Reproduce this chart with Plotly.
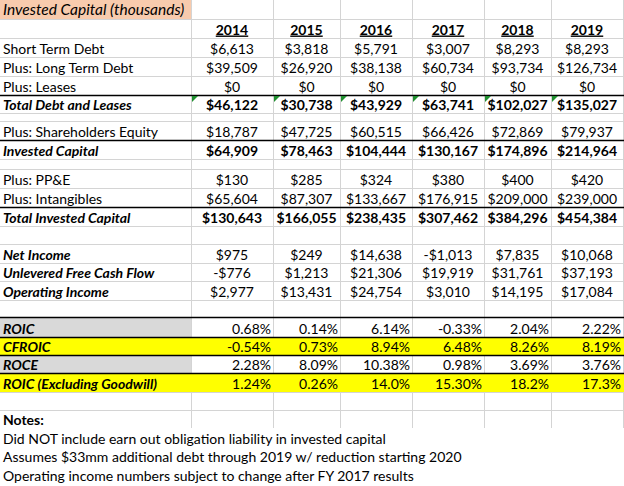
import plotly.graph_objects as go

# ---------------- data ----------------
title_text = "Invested Capital (thousands)"
years = ["2014", "2015", "2016", "2017", "2018", "2019"]

short_term_debt = [6613, 3818, 5791, 3007, 8293, 8293]
long_term_debt = [39509, 26920, 38138, 60734, 93734, 126734]
leases = [0, 0, 0, 0, 0, 0]
total_debt_and_leases = [46122, 30738, 43929, 63741, 102027, 135027]
shareholders_equity = [18787, 47725, 60515, 66426, 72869, 79937]
invested_capital = [64909, 78463, 104444, 130167, 174896, 214964]
ppe = [130, 285, 324, 380, 400, 420]
intangibles = [65604, 87307, 133667, 176915, 209000, 239000]
total_invested_capital = [130643, 166055, 238435, 307462, 384296, 454384]
net_income = [975, 249, 14638, -1013, 7835, 10068]
unlevered_fcf = [-776, 1213, 21306, 19919, 31761, 37193]
operating_income = [2977, 13431, 24754, 3010, 14195, 17084]

roic = [0.68, 0.14, 6.14, -0.33, 2.04, 2.22]
cfroic = [-0.54, 0.73, 8.94, 6.48, 8.26, 8.19]
roce = [2.28, 8.09, 10.38, 0.98, 3.69, 3.76]
roic_ex_goodwill = [1.24, 0.26, 14.0, 15.30, 18.2, 17.3]
roic_ex_goodwill_decimals = [2, 2, 1, 2, 1, 1]

notes_title = "Notes:"
notes = [
    "Did NOT include earn out obligation liability in invested capital",
    "Assumes $33mm additional debt through 2019 w/ reduction starting 2020",
    "Operating income numbers subject to change after FY 2017 results",
]

# ---------------- layout geometry ----------------
W, H = 624, 486
col_edges = [0, 191, 273, 340, 412, 484, 551, 623]
row_heights = [19, 19, 19, 19, 19, 18, 8, 19, 19, 10, 19, 19, 19, 18,
               19, 18, 19, 17, 20, 18, 18, 19, 18, 18, 19, 18, 19]
row_edges = [0]
for h in row_heights:
    row_edges.append(row_edges[-1] + h)

FONT = "Lato, Calibri, sans-serif"
FS = 14
GRID = "#d4d4d4"
ORANGE = "#f8cbad"
YELLOW = "#ffff00"
GRAY = "#d9d9d9"


def fmt_dollar(v):
    return f"-${abs(v):,}" if v < 0 else f"${v:,}"


def fmt_pct(v, d=2):
    return f"{v:.{d}f}%"


# row index -> (label, kind, values)
rows = {
    1: ("", "year", years),
    2: ("Short Term Debt", "dollar", short_term_debt),
    3: ("Plus: Long Term Debt", "dollar", long_term_debt),
    4: ("Plus: Leases", "dollar", leases),
    5: ("<b><i>Total Debt and Leases</i></b>", "dollar_bold", total_debt_and_leases),
    7: ("Plus: Shareholders Equity", "dollar", shareholders_equity),
    8: ("<b><i>Invested Capital</i></b>", "dollar_bold", invested_capital),
    10: ("Plus: PP&amp;E", "dollar", ppe),
    11: ("Plus: Intangibles", "dollar", intangibles),
    12: ("<b><i>Total Invested Capital</i></b>", "dollar_bold", total_invested_capital),
    14: ("<b><i>Net Income</i></b>", "dollar", net_income),
    15: ("<b><i>Unlevered Free Cash Flow</i></b>", "dollar", unlevered_fcf),
    16: ("<b><i>Operating Income</i></b>", "dollar", operating_income),
    18: ("<b><i>ROIC</i></b>", "pct", roic),
    19: ("<b><i>CFROIC</i></b>", "pct", cfroic),
    20: ("<b><i>ROCE</i></b>", "pct", roce),
    21: ("<b><i>ROIC (Excluding Goodwill)</i></b>", "pct_ex", roic_ex_goodwill),
}


def text_y(r):
    return row_edges[r + 1] - 7


shapes = []

# gridlines
for x in col_edges[1:]:
    xp = x + 0.5
    shapes.append(dict(type="line", x0=xp, x1=xp, y0=0, y1=row_edges[24],
                       line=dict(color=GRID, width=1), layer="below"))
for r in range(1, 24):
    y = row_edges[r] + 0.5
    shapes.append(dict(type="line", x0=0, x1=col_edges[-1] + 1, y0=y, y1=y,
                       line=dict(color=GRID, width=1), layer="below"))

# fills
def rect(x0, y0, x1, y1, color):
    shapes.append(dict(type="rect", x0=x0, x1=x1, y0=y0, y1=y1,
                       fillcolor=color, line=dict(width=0), layer="below"))

rect(0, row_edges[0], col_edges[1], row_edges[1], ORANGE)
rect(0, row_edges[18], col_edges[1], row_edges[19], GRAY)
rect(0, row_edges[20], col_edges[1], row_edges[21], GRAY)
rect(0, row_edges[19], col_edges[-1] + 1, row_edges[20], YELLOW)
rect(0, row_edges[21], col_edges[-1] + 1, row_edges[22], YELLOW)

# black borders
for r in [5, 8, 12, 18, 19, 20, 21]:
    y = row_edges[r] + 0.5
    shapes.append(dict(type="line", x0=0, x1=col_edges[-1] + 1, y0=y, y1=y,
                       line=dict(color="#000000", width=1.3), layer="below"))

# green error triangles
for c in range(1, 7):
    x0 = col_edges[c] + 1
    y0 = row_edges[5] + 1
    shapes.append(dict(type="path",
                       path=f"M {x0},{y0} L {x0 + 6},{y0} L {x0},{y0 + 6} Z",
                       fillcolor="#1f8f2f", line=dict(width=0), layer="above"))

fig = go.Figure()

# title
fig.add_trace(go.Scatter(x=[3], y=[text_y(0) - 0.5], mode="text",
                         text=[f"<i>{title_text}</i>"], textposition="middle right",
                         textfont=dict(family=FONT, size=15.5, color="#000"),
                         hoverinfo="skip", showlegend=False))

# labels
lab_rows = [r for r in rows if rows[r][0]]
fig.add_trace(go.Scatter(x=[3] * len(lab_rows), y=[text_y(r) for r in lab_rows],
                         mode="text", text=[rows[r][0] for r in lab_rows],
                         textposition="middle right",
                         textfont=dict(family=FONT, size=FS, color="#000"),
                         hoverinfo="skip", showlegend=False))

# values
for c in range(6):
    cx = (col_edges[c + 1] + col_edges[c + 2]) / 2
    rx = col_edges[c + 2] - 2
    cx_list, cy_list, ctext = [], [], []
    rx_list, ry_list, rtext = [], [], []
    for r, (lab, kind, vals) in rows.items():
        v = vals[c]
        if kind == "year":
            cx_list.append(cx); cy_list.append(text_y(r)); ctext.append(f"<b><u>{v}</u></b>")
        elif kind == "dollar":
            cx_list.append(cx); cy_list.append(text_y(r)); ctext.append(fmt_dollar(v))
        elif kind == "dollar_bold":
            cx_list.append(cx); cy_list.append(text_y(r)); ctext.append(f"<b>{fmt_dollar(v)}</b>")
        elif kind == "pct":
            rx_list.append(rx); ry_list.append(text_y(r)); rtext.append(fmt_pct(v))
        elif kind == "pct_ex":
            rx_list.append(rx); ry_list.append(text_y(r))
            rtext.append(fmt_pct(v, roic_ex_goodwill_decimals[c]))
    fig.add_trace(go.Scatter(x=cx_list, y=cy_list, mode="text", text=ctext,
                             textposition="middle center",
                             textfont=dict(family=FONT, size=FS, color="#000"),
                             hoverinfo="skip", showlegend=False))
    fig.add_trace(go.Scatter(x=rx_list, y=ry_list, mode="text", text=rtext,
                             textposition="middle left",
                             textfont=dict(family=FONT, size=FS, color="#000"),
                             hoverinfo="skip", showlegend=False))

# notes
note_rows = [23, 24, 25, 26]
note_texts = [f"<b>{notes_title}</b>"] + notes
fig.add_trace(go.Scatter(x=[3] * 4, y=[text_y(r) for r in note_rows], mode="text",
                         text=note_texts, textposition="middle right",
                         textfont=dict(family=FONT, size=FS, color="#000"),
                         hoverinfo="skip", showlegend=False))

fig.update_layout(
    width=W, height=H, margin=dict(l=0, r=0, t=0, b=0),
    paper_bgcolor="white", plot_bgcolor="white",
    xaxis=dict(range=[0, W], visible=False, fixedrange=True),
    yaxis=dict(range=[H, 0], visible=False, fixedrange=True),
    shapes=shapes, showlegend=False,
)

fig.write_html("out.html", config={"displayModeBar": False},
               post_script="document.body.style.margin='0px';document.body.style.overflow='hidden';")
